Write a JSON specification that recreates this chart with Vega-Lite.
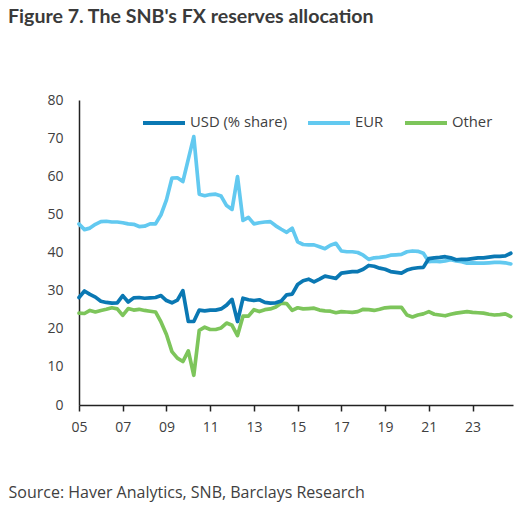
{
  "$schema": "https://vega.github.io/schema/vega-lite/v6.json",
  "width": 434,
  "height": 305,
  "autosize": "none",
  "padding": {"left": 79, "top": 100, "right": 16, "bottom": 101},
  "background": "white",
  "title": {"text": "Figure 7. The SNB's FX reserves allocation", "anchor": "start", "frame": "group", "dx": -71, "offset": 50, "baseline": "alphabetic", "font": "Lato", "fontSize": 19.6, "fontWeight": "bold", "color": "#3a3a3a"},
  "config": {"view": {"stroke": null}, "axis": {"grid": false}},
  "data": {"values": [
    {"t": 2005.00, "USD (% share)": 28.2, "EUR": 47.5, "Other": 24.1},
    {"t": 2005.25, "USD (% share)": 29.9, "EUR": 46.0, "Other": 24.0},
    {"t": 2005.50, "USD (% share)": 29.0, "EUR": 46.4, "Other": 24.8},
    {"t": 2005.75, "USD (% share)": 28.3, "EUR": 47.4, "Other": 24.4},
    {"t": 2006.00, "USD (% share)": 27.2, "EUR": 48.1, "Other": 24.8},
    {"t": 2006.25, "USD (% share)": 26.9, "EUR": 48.2, "Other": 25.1},
    {"t": 2006.50, "USD (% share)": 26.7, "EUR": 48.0, "Other": 25.5},
    {"t": 2006.75, "USD (% share)": 26.8, "EUR": 48.0, "Other": 25.2},
    {"t": 2007.00, "USD (% share)": 28.7, "EUR": 47.8, "Other": 23.5},
    {"t": 2007.25, "USD (% share)": 27.0, "EUR": 47.5, "Other": 25.3},
    {"t": 2007.50, "USD (% share)": 28.1, "EUR": 47.4, "Other": 24.9},
    {"t": 2007.75, "USD (% share)": 28.2, "EUR": 46.8, "Other": 25.1},
    {"t": 2008.00, "USD (% share)": 28.0, "EUR": 46.9, "Other": 24.8},
    {"t": 2008.25, "USD (% share)": 28.1, "EUR": 47.5, "Other": 24.6},
    {"t": 2008.50, "USD (% share)": 28.2, "EUR": 47.5, "Other": 24.4},
    {"t": 2008.75, "USD (% share)": 28.7, "EUR": 49.9, "Other": 21.8},
    {"t": 2009.00, "USD (% share)": 27.4, "EUR": 53.8, "Other": 18.5},
    {"t": 2009.25, "USD (% share)": 26.8, "EUR": 59.5, "Other": 14.0},
    {"t": 2009.50, "USD (% share)": 27.5, "EUR": 59.6, "Other": 12.3},
    {"t": 2009.75, "USD (% share)": 30.0, "EUR": 58.6, "Other": 11.4},
    {"t": 2010.00, "USD (% share)": 21.9, "EUR": 64.5, "Other": 14.2},
    {"t": 2010.25, "USD (% share)": 21.9, "EUR": 70.4, "Other": 7.8},
    {"t": 2010.50, "USD (% share)": 24.9, "EUR": 55.3, "Other": 19.6},
    {"t": 2010.75, "USD (% share)": 24.7, "EUR": 54.9, "Other": 20.4},
    {"t": 2011.00, "USD (% share)": 24.9, "EUR": 55.2, "Other": 19.8},
    {"t": 2011.25, "USD (% share)": 24.9, "EUR": 55.3, "Other": 19.8},
    {"t": 2011.50, "USD (% share)": 25.2, "EUR": 54.8, "Other": 20.2},
    {"t": 2011.75, "USD (% share)": 26.2, "EUR": 52.3, "Other": 21.5},
    {"t": 2012.00, "USD (% share)": 27.7, "EUR": 51.3, "Other": 20.9},
    {"t": 2012.25, "USD (% share)": 21.9, "EUR": 59.9, "Other": 18.2},
    {"t": 2012.50, "USD (% share)": 28.0, "EUR": 48.4, "Other": 23.3},
    {"t": 2012.75, "USD (% share)": 27.6, "EUR": 49.2, "Other": 23.3},
    {"t": 2013.00, "USD (% share)": 27.4, "EUR": 47.5, "Other": 25.0},
    {"t": 2013.25, "USD (% share)": 27.6, "EUR": 47.8, "Other": 24.5},
    {"t": 2013.50, "USD (% share)": 26.9, "EUR": 48.0, "Other": 25.0},
    {"t": 2013.75, "USD (% share)": 26.7, "EUR": 48.1, "Other": 25.2},
    {"t": 2014.00, "USD (% share)": 26.8, "EUR": 47.0, "Other": 25.7},
    {"t": 2014.25, "USD (% share)": 27.3, "EUR": 46.1, "Other": 26.7},
    {"t": 2014.50, "USD (% share)": 28.9, "EUR": 45.3, "Other": 26.6},
    {"t": 2014.75, "USD (% share)": 29.1, "EUR": 46.4, "Other": 24.8},
    {"t": 2015.00, "USD (% share)": 31.6, "EUR": 42.8, "Other": 25.5},
    {"t": 2015.25, "USD (% share)": 32.6, "EUR": 42.1, "Other": 25.2},
    {"t": 2015.50, "USD (% share)": 33.0, "EUR": 42.0, "Other": 25.3},
    {"t": 2015.75, "USD (% share)": 32.3, "EUR": 42.0, "Other": 25.4},
    {"t": 2016.00, "USD (% share)": 33.0, "EUR": 41.5, "Other": 24.9},
    {"t": 2016.25, "USD (% share)": 33.8, "EUR": 41.0, "Other": 24.7},
    {"t": 2016.50, "USD (% share)": 33.5, "EUR": 41.9, "Other": 24.6},
    {"t": 2016.75, "USD (% share)": 33.2, "EUR": 42.4, "Other": 24.2},
    {"t": 2017.00, "USD (% share)": 34.6, "EUR": 40.4, "Other": 24.5},
    {"t": 2017.25, "USD (% share)": 34.8, "EUR": 40.2, "Other": 24.4},
    {"t": 2017.50, "USD (% share)": 35.0, "EUR": 40.2, "Other": 24.3},
    {"t": 2017.75, "USD (% share)": 35.0, "EUR": 40.0, "Other": 24.5},
    {"t": 2018.00, "USD (% share)": 35.6, "EUR": 39.3, "Other": 25.1},
    {"t": 2018.25, "USD (% share)": 36.6, "EUR": 38.2, "Other": 25.0},
    {"t": 2018.50, "USD (% share)": 36.4, "EUR": 38.6, "Other": 24.8},
    {"t": 2018.75, "USD (% share)": 35.9, "EUR": 38.7, "Other": 25.1},
    {"t": 2019.00, "USD (% share)": 35.6, "EUR": 38.9, "Other": 25.5},
    {"t": 2019.25, "USD (% share)": 35.0, "EUR": 39.3, "Other": 25.6},
    {"t": 2019.50, "USD (% share)": 34.8, "EUR": 39.4, "Other": 25.6},
    {"t": 2019.75, "USD (% share)": 34.6, "EUR": 39.5, "Other": 25.6},
    {"t": 2020.00, "USD (% share)": 35.4, "EUR": 40.2, "Other": 23.6},
    {"t": 2020.25, "USD (% share)": 35.8, "EUR": 40.4, "Other": 23.1},
    {"t": 2020.50, "USD (% share)": 36.0, "EUR": 40.3, "Other": 23.6},
    {"t": 2020.75, "USD (% share)": 36.1, "EUR": 39.8, "Other": 23.9},
    {"t": 2021.00, "USD (% share)": 38.4, "EUR": 37.6, "Other": 24.5},
    {"t": 2021.25, "USD (% share)": 38.6, "EUR": 37.7, "Other": 23.8},
    {"t": 2021.50, "USD (% share)": 38.7, "EUR": 37.6, "Other": 23.6},
    {"t": 2021.75, "USD (% share)": 38.9, "EUR": 37.8, "Other": 23.4},
    {"t": 2022.00, "USD (% share)": 38.6, "EUR": 38.1, "Other": 23.8},
    {"t": 2022.25, "USD (% share)": 38.1, "EUR": 37.8, "Other": 24.1},
    {"t": 2022.50, "USD (% share)": 38.2, "EUR": 37.6, "Other": 24.3},
    {"t": 2022.75, "USD (% share)": 38.2, "EUR": 37.2, "Other": 24.5},
    {"t": 2023.00, "USD (% share)": 38.4, "EUR": 37.3, "Other": 24.3},
    {"t": 2023.25, "USD (% share)": 38.6, "EUR": 37.2, "Other": 24.2},
    {"t": 2023.50, "USD (% share)": 38.6, "EUR": 37.2, "Other": 24.1},
    {"t": 2023.75, "USD (% share)": 38.8, "EUR": 37.3, "Other": 23.8},
    {"t": 2024.00, "USD (% share)": 39.0, "EUR": 37.4, "Other": 23.6},
    {"t": 2024.25, "USD (% share)": 39.0, "EUR": 37.4, "Other": 23.7},
    {"t": 2024.50, "USD (% share)": 39.1, "EUR": 37.3, "Other": 23.9},
    {"t": 2024.75, "USD (% share)": 39.8, "EUR": 37.0, "Other": 23.2}
  ]},
  "transform": [{"fold": ["EUR", "Other", "USD (% share)"], "as": ["series", "value"]}],
  "mark": {"type": "line", "strokeWidth": 3.7, "strokeJoin": "round", "strokeCap": "round"},
  "encoding": {
    "x": {"field": "t", "type": "quantitative",
      "scale": {"domain": [2005, 2024.85], "nice": false, "zero": false},
      "axis": {"values": [2005, 2007, 2009, 2011, 2013, 2015, 2017, 2019, 2021, 2023],
        "format": "d", "labelExpr": "substring(datum.label, 2, 4)",
        "domainColor": "#222222", "domainWidth": 1.5, "tickColor": "#222222", "tickWidth": 1.5, "tickSize": 6,
        "labelFont": "Open Sans", "labelFontSize": 14, "labelColor": "#404040", "labelPadding": 9, "labelFlush": false,
        "title": "Source: Haver Analytics, SNB, Barclays Research",
        "titleX": -71, "titleY": 92, "titleAlign": "left", "titleAnchor": null, "titleBaseline": "alphabetic",
        "titleFont": "Open Sans", "titleFontSize": 16, "titleFontWeight": "normal", "titleColor": "#404040"}},
    "y": {"field": "value", "type": "quantitative",
      "scale": {"domain": [0, 80], "nice": false},
      "axis": {"values": [0, 10, 20, 30, 40, 50, 60, 70, 80], "ticks": false, "tickSize": 0,
        "domainColor": "#222222", "domainWidth": 1.5,
        "labelFont": "Open Sans", "labelFontSize": 14, "labelColor": "#404040", "labelPadding": 16, "title": null}},
    "color": {"field": "series", "type": "nominal",
      "scale": {"domain": ["USD (% share)", "EUR", "Other"], "range": ["#0a78b3", "#62c9f0", "#7dc55b"]},
      "legend": {"title": null, "orient": "none", "direction": "horizontal", "legendX": 62, "legendY": 0,
        "symbolType": "stroke", "symbolSize": 1764, "symbolStrokeWidth": 4, "labelOffset": 3, "columnPadding": 13,
        "labelFont": "Open Sans", "labelFontSize": 14.8, "labelColor": "#404040", "padding": 0}}
  }
}
